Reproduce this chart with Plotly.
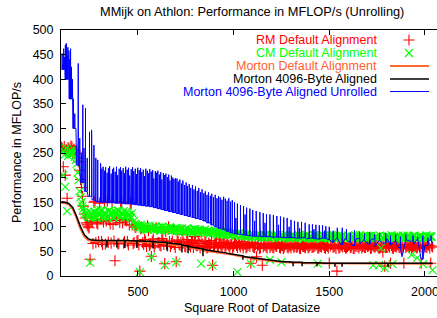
import plotly.graph_objects as go

# ---------------- data ----------------
# marker series, first pass: sizes 100..2040 step 10
X_MARK = list(range(100, 2041, 10))

RM_Y = [
    262, 222, 205, 158, 258, 264, 255, 256, 250, 232,
    196, 162, 126, 108, 100, 34, 112, 150, 68, 106,
    148, 70, 110, 65, 152, 114, 67, 105, 31, 118,
    66, 150, 108, 70, 112, 63, 148, 104, 68, 100,
    72, 10, 98, 64, 70, 102, 62, 40, 75, 66,
    95, 68, 61, 73, 25, 66, 100, 60, 71, 64,
    29, 70, 62, 92, 67, 59, 74, 63, 69, 58,
    72, 61, 66, 88, 60, 70, 57, 67, 63, 22,
    59, 68, 60, 65, 58, 71, 61, 64, 57, 66,
    60, 67, 58, 63, 70, 57, 64, 59, 66, 26,
    61, 58, 39, 64, 57, 22, 62, 59, 65, 58,
    63, 57, 61, 66, 58, 62, 56, 64, 59, 61,
    57, 63, 60, 58, 65, 56, 61, 59, 64, 57,
    62, 58, 60, 65, 57, 61, 59, 63, 56, 60,
    26, 64, 58, 61, 10, 57, 63, 59, 60, 57,
    62, 58, 64, 56, 60, 59, 63, 57, 61, 58,
    60, 64, 57, 61, 59, 62, 56, 60, 49, 20,
    58, 62, 26, 57, 61, 59, 63, 57, 60, 26,
    58, 62, 59, 57, 61, 60, 58, 63, 26, 56,
    60, 58, 62, 26, 59,
]

CM_Y = [
    258, 205, 181, 132, 250, 256, 248, 242, 228, 195,
    160, 142, 132, 126, 121, 27, 118, 130, 122, 134,
    124, 133, 118, 128, 120, 133, 126, 119, 131, 124,
    133, 122, 128, 119, 131, 124, 120, 128, 112, 104,
    103, 8, 100, 96, 102, 94, 99, 39, 97, 101,
    95, 99, 93, 100, 22, 97, 94, 98, 92, 96,
    28, 95, 91, 97, 93, 90, 96, 92, 94, 89,
    95, 91, 93, 25, 90, 94, 88, 92, 89, 21,
    90, 88, 84, 90, 85, 87, 83, 89, 84, 86,
    86, 82, 8, 87, 83, 85, 81, 84, 80, 25,
    83, 79, 84, 80, 82, 78, 83, 80, 81, 33,
    80, 84, 78, 82, 79, 28, 83, 79, 81, 78,
    82, 78, 81, 77, 83, 79, 80, 76, 82, 78,
    81, 77, 83, 79, 25, 80, 76, 82, 78, 81,
    77, 82, 79, 80, 76, 83, 78, 81, 77, 80,
    82, 78, 80, 76, 81, 79, 83, 77, 80, 78,
    81, 77, 82, 22, 79, 80, 22, 57, 78, 16,
    79, 81, 77, 24, 80, 78, 82, 79, 76, 80,
    78, 82, 79, 43, 81, 77, 37, 80, 78, 24,
    79, 82, 78, 80, 12,
]

# marker series, in-between sizes: 105..2035 step 10
X_MARK_B = list(range(105, 2036, 10))

RM_Y_B = [
    259, 263, 257, 261, 254, 262, 258, 252, 240, 215, 180, 142, 118, 104, 98,
    110, 66, 152, 108, 70, 116, 64, 149, 112, 69,
    106, 151, 71, 113, 65, 109, 150, 67, 115, 70,
    104, 147, 66, 99, 71, 63, 96, 68, 74, 60,
    92, 65, 71, 59, 98, 68, 62, 76, 64, 90,
    61, 70, 66, 95, 58, 73, 64, 68, 85, 60,
    71, 64, 59, 68, 80, 62, 73, 57, 66, 61,
    69, 58, 64, 72, 60, 67, 57, 75, 62, 65,
    58, 68, 61, 64, 57, 66, 62, 69, 59, 63,
    65, 57, 62, 60, 68, 58, 64, 61, 56, 66,
    59, 63, 57, 65, 61, 58, 64, 60, 67, 57,
    62, 59, 65, 57, 61, 63, 58, 66, 60, 56,
    64, 60, 57, 62, 59, 65, 58, 61, 63, 57,
    60, 65, 58, 62, 57, 61, 64, 59, 56, 63,
    58, 61, 65, 57, 60, 63, 59, 56, 62, 64,
    57, 62, 60, 58, 64, 61, 56, 63, 59, 62,
    60, 57, 63, 61, 58, 65, 59, 62, 56, 60,
    63, 58, 61, 57, 64, 60, 58, 62, 59, 61,
    57, 63, 60, 58, 62, 59, 64, 57, 61,
]

CM_Y_B = [
    252, 246, 260, 244, 254, 249, 257, 236, 210, 172, 150, 137, 128, 123, 119,
    128, 120, 131, 118, 125, 134, 121, 129, 119, 132,
    122, 130, 118, 127, 133, 121, 126, 132, 119, 129,
    124, 118, 110, 106, 101, 98, 104, 97, 100, 95,
    102, 96, 99, 94, 101, 97, 93, 100, 95, 98,
    94, 99, 92, 96, 93, 98, 91, 95, 90, 94,
    97, 90, 93, 89, 95, 91, 88, 94, 90, 92,
    88, 91, 86, 90, 87, 92, 85, 89, 86, 88,
    85, 89, 83, 87, 84, 86, 82, 85, 81, 84,
    82, 85, 80, 83, 79, 84, 81, 78, 83, 80,
    79, 83, 80, 77, 82, 78, 81, 84, 79, 77,
    81, 78, 83, 79, 76, 82, 80, 77, 81, 79,
    77, 81, 79, 83, 78, 80, 76, 82, 79, 78,
    80, 77, 82, 78, 81, 79, 76, 83, 78, 80,
    79, 82, 77, 80, 78, 81, 76, 79, 83, 78,
    80, 77, 81, 79, 82, 78, 80, 76, 79, 81,
    78, 82, 79, 77, 81, 80, 78, 83, 79, 77,
    81, 78, 80, 82, 77, 79, 81, 78, 80, 82,
    79, 77, 81, 80, 78, 82, 79, 81, 80,
]

# line series: sizes 100..2040 step 20
X_LINE = list(range(100, 2041, 20))

MORTON_DEFAULT_Y = [
    149, 148, 145, 136, 117, 96, 80, 73, 71, 70,
    70, 70, 70, 70, 70, 70, 70, 70, 70, 69,
    69, 69, 69, 68, 68, 67, 67, 66, 65, 64,
    63, 62, 60, 59, 57, 56, 54, 53, 51, 50,
    49, 48, 47, 46, 44, 43, 41, 40, 38, 37,
    35, 34, 33, 32, 31, 30, 29, 29, 28, 28,
    27, 27, 27, 26, 26, 26, 26, 26, 25, 25,
    25, 25, 25, 25, 25, 25, 25, 25, 25, 25,
    25, 25, 25, 25, 25, 25, 25, 25, 25, 25,
    25, 25, 25, 25, 25, 25, 25, 25,
]

MORTON_4096_Y = [
    151, 150, 147, 139, 121, 100, 84, 76, 73, 72,
    72, 72, 72, 72, 72, 72, 72, 72, 72, 71,
    71, 71, 71, 70, 70, 69, 69, 68, 67, 66,
    65, 64, 62, 61, 59, 58, 56, 55, 53, 52,
    51, 50, 48, 47, 45, 44, 42, 41, 39, 38,
    36, 35, 34, 33, 32, 31, 30, 30, 29, 29,
    28, 28, 28, 27, 27, 27, 27, 27, 26, 26,
    26, 26, 26, 26, 26, 26, 26, 26, 26, 26,
    26, 26, 26, 26, 26, 26, 26, 26, 26, 26,
    26, 26, 26, 26, 26, 26, 26, 26,
]
MORTON_4096_DIP_X = [338, 390, 432, 495, 579, 652, 730, 762, 840, 1049,
                     1311, 1358, 1436, 1530, 1567, 1807]
MORTON_4096_DIP_Y = [58, 58, 57, 57, 56, 52, 48, 46, 40, 33,
                     20, 20, 20, 19, 19, 19]

UNROLLED_BASE_Y = [
    420, 400, 360, 300, 225, 190, 172, 162, 155, 151,
    150, 150, 149, 149, 148, 148, 147, 147, 146, 145,
    144, 143, 142, 141, 139, 137, 135, 133, 131, 129,
    127, 125, 123, 121, 119, 117, 115, 112, 108, 104,
    100, 97, 94, 91, 88, 86, 85, 84, 83, 82,
    81, 81, 80, 80, 80, 79, 79, 79, 78, 78,
    78, 77, 77, 78, 76, 77, 76, 75, 77, 76,
    74, 68, 77, 64, 75, 70, 62, 76, 66, 73,
    65, 75, 60, 72, 67, 76, 63, 70, 58, 39,
    74, 71, 64, 75, 34, 62, 73, 66,
]
UNROLLED_SPIKE_X = [
    104, 108, 112, 117, 121, 126, 130, 134, 139, 143,
    148, 153, 158, 163, 170, 176, 188, 196, 204, 212,
    218, 226, 235, 247, 258, 270, 280, 290,
    305, 311, 318, 326, 331, 339, 346, 352, 360, 367,
    373, 381, 388, 394, 402, 409, 415, 423, 430, 436,
    444, 451, 457, 465, 472, 478, 486, 493, 499, 507,
    514, 520, 528, 535, 541, 549, 556, 562, 570, 577,
    583, 591, 598, 604, 612, 619, 625, 633, 640, 646,
    654, 661, 667, 675, 682, 688, 696,
    704, 711, 719, 728, 735, 744, 752, 759, 768, 776,
    785, 793, 801, 810, 818, 827, 835, 844, 852, 861,
    869, 878, 886, 895, 904, 913, 921, 930, 939, 948,
    957, 966, 975, 984, 993,
    1005, 1012, 1020, 1036, 1052, 1060, 1068, 1085, 1100, 1110,
    1118, 1137, 1155, 1164, 1172, 1190, 1208, 1226, 1235, 1245,
    1262, 1280, 1290, 1300, 1318, 1336, 1345, 1355, 1374, 1395,
    1412, 1420, 1430, 1448, 1465, 1475, 1482,
    1500, 1520, 1542, 1568, 1590, 1610, 1632, 1658, 1684, 1711,
    1737, 1763, 1795, 1820, 1847, 1872, 1900, 1937, 1962, 1989,
    2015, 2032,
]
UNROLLED_SPIKE_Y = [
    452, 430, 462, 445, 470, 473, 448, 465, 458, 440,
    462, 425, 400, 360, 330, 300, 432, 280, 250, 348,
    260, 341, 240, 293, 297, 266, 240, 236,
    229, 218, 222, 214, 221, 210, 219, 223, 208, 217,
    220, 212, 222, 205, 218, 221, 214, 219, 209, 222,
    216, 220, 204, 217, 221, 213, 218, 207, 220, 215,
    219, 211, 216, 203, 218, 214, 209, 217, 212, 215,
    198, 213, 210, 214, 206, 211, 196, 209, 205, 208,
    201, 206, 194, 204, 200, 197, 199,
    198, 192, 196, 188, 194, 185, 190, 183, 187, 179,
    185, 176, 182, 173, 179, 170, 176, 168, 172, 165,
    170, 163, 167, 160, 165, 158, 162, 160, 155, 161,
    157, 153, 158, 151, 154,
    150, 118, 147, 144, 142, 125, 139, 137, 134, 112,
    132, 130, 128, 108, 126, 125, 124, 122, 104, 121,
    119, 118, 100, 114, 112, 110, 97, 110, 108, 105,
    105, 95, 104, 103, 103, 92, 101,
    100, 92, 98, 98, 95, 88, 93, 90, 86, 89,
    84, 87, 87, 82, 85, 80, 85, 82, 79, 82,
    78, 82,
]

X_TICKS = [500, 1000, 1500, 2000]
Y_TICKS = list(range(0, 501, 50))

NAMES = ["RM Default Alignment", "CM Default Alignment", "Morton Default Alignment",
         "Morton 4096-Byte Aligned", "Morton 4096-Byte Aligned Unrolled"]
COLORS = ["#ff0000", "#00ff00", "#ff6a30", "#000000", "#0000ff"]
TEXT_COLORS = ["#ff0000", "#00ff00", "#ff6030", "#000000", "#0000ff"]


def with_spikes(xg, yg, sx, sy):
    """Insert vertical excursions (from the line's own samples) into a polyline."""
    spikes = sorted(zip(sx, sy))
    xo, yo = [], []
    j = 0
    for i, (x, y) in enumerate(zip(xg, yg)):
        xo.append(x)
        yo.append(y)
        nxt = xg[i + 1] if i + 1 < len(xg) else float("inf")
        while j < len(spikes) and spikes[j][0] < nxt:
            s, t = spikes[j]
            xo += [s, s, s]
            yo += [y, t, y]
            j += 1
    return xo, yo


def merge(xa, ya, xb, yb):
    pts = sorted(list(zip(xa, ya)) + list(zip(xb, yb)))
    return [p[0] for p in pts], [p[1] for p in pts]


FONT = "Liberation Sans, Arial, Helvetica, sans-serif"
FS = 12.5

# plot area on screen: x 61..437, y 30..276 ; helpers to paper coords
def px(x):
    return (x - 61) / 376.0


def py(y):
    return (276 - y) / 246.0


fig = go.Figure()
rx, ry = merge(X_MARK, RM_Y, X_MARK_B, RM_Y_B)
fig.add_trace(go.Scatter(x=rx, y=ry, mode="markers", name=NAMES[0],
                         marker=dict(symbol="cross-thin", size=8, color=COLORS[0],
                                     line=dict(color=COLORS[0], width=1.1))))
cx, cy = merge(X_MARK, CM_Y, X_MARK_B, CM_Y_B)
fig.add_trace(go.Scatter(x=cx, y=cy, mode="markers", name=NAMES[1],
                         marker=dict(symbol="x-thin", size=8, color=COLORS[1],
                                     line=dict(color=COLORS[1], width=1.1))))
fig.add_trace(go.Scatter(x=X_LINE, y=MORTON_DEFAULT_Y, mode="lines", name=NAMES[2],
                         line=dict(color=COLORS[2], width=2)))
bx, by = with_spikes(X_LINE, MORTON_4096_Y, MORTON_4096_DIP_X, MORTON_4096_DIP_Y)
fig.add_trace(go.Scatter(x=bx, y=by, mode="lines", name=NAMES[3],
                         line=dict(color=COLORS[3], width=1.5)))
ux, uy = with_spikes(X_LINE, UNROLLED_BASE_Y, UNROLLED_SPIKE_X, UNROLLED_SPIKE_Y)
fig.add_trace(go.Scatter(x=ux, y=uy, mode="lines", name=NAMES[4],
                         line=dict(color=COLORS[4], width=1)))

# ---- gnuplot-style key (text right-aligned, sample on the right) ----
KEY_Y = [40, 53, 66, 79, 91.5]
fig.add_trace(go.Scatter(x=[409], y=[KEY_Y[0]], xaxis="x2", yaxis="y2", mode="markers",
                         marker=dict(symbol="cross-thin", size=8, color=COLORS[0],
                                     line=dict(color=COLORS[0], width=1.1)),
                         showlegend=False, hoverinfo="skip"))
fig.add_trace(go.Scatter(x=[409], y=[KEY_Y[1]], xaxis="x2", yaxis="y2", mode="markers",
                         marker=dict(symbol="x-thin", size=8, color=COLORS[1],
                                     line=dict(color=COLORS[1], width=1.1)),
                         showlegend=False, hoverinfo="skip"))
for k, w in zip([2, 3, 4], [2, 1.5, 1]):
    fig.add_shape(type="line", xref="paper", yref="paper", x0=px(390), x1=px(429),
                  y0=py(KEY_Y[k]), y1=py(KEY_Y[k]), line=dict(color=COLORS[k], width=w))
for k in range(5):
    fig.add_annotation(x=px(378.5), y=py(KEY_Y[k]), xref="paper", yref="paper",
                       text=NAMES[k], showarrow=False, xanchor="right", yanchor="middle",
                       font=dict(family=FONT, size=FS, color=TEXT_COLORS[k]))

# titles
fig.add_annotation(x=px(252), y=py(11.5), xref="paper", yref="paper",
                   text="MMijk on Athlon: Performance in MFLOP/s (Unrolling)",
                   showarrow=False, xanchor="center", yanchor="middle",
                   font=dict(family=FONT, size=12.8, color="black"))
fig.add_annotation(x=px(252), y=py(308), xref="paper", yref="paper",
                   text="Square Root of Datasize",
                   showarrow=False, xanchor="center", yanchor="middle",
                   font=dict(family=FONT, size=FS, color="black"))
fig.add_annotation(x=px(17), y=py(153), xref="paper", yref="paper",
                   text="Performance in MFLOP/s",
                   showarrow=False, xanchor="center", yanchor="middle", textangle=-90,
                   font=dict(family=FONT, size=FS, color="black"))

fig.update_layout(
    template="none",
    width=437, height=318,
    margin=dict(l=61, r=0, t=30, b=42, pad=0),
    plot_bgcolor="white", paper_bgcolor="white",
    showlegend=False,
    hovermode=False,
    font=dict(family=FONT, size=FS, color="black"),
    xaxis=dict(range=[98, 2063], tickvals=X_TICKS, ticks="inside", ticklen=5,
               tickcolor="black", showline=True, linecolor="black", linewidth=1,
               mirror="ticks", showgrid=False, zeroline=False, automargin=False,
               ticklabelstandoff=4, ticklabeloverflow="allow",
               tickfont=dict(family=FONT, size=FS, color="black")),
    yaxis=dict(range=[0, 500], tickvals=Y_TICKS, ticks="inside", ticklen=5,
               tickcolor="black", showline=True, linecolor="black", linewidth=1,
               mirror=False, showgrid=False, zeroline=False, automargin=False,
               ticklabelstandoff=4,
               tickfont=dict(family=FONT, size=FS, color="black")),
    xaxis2=dict(overlaying="x", range=[61, 437], visible=False, automargin=False),
    yaxis2=dict(overlaying="y", range=[276, 30], visible=False, automargin=False),
)

fig.write_html("out.html",
               config={"displayModeBar": False, "staticPlot": True},
               post_script="document.body.style.margin='0';"
                           "document.documentElement.style.overflow='hidden';")
